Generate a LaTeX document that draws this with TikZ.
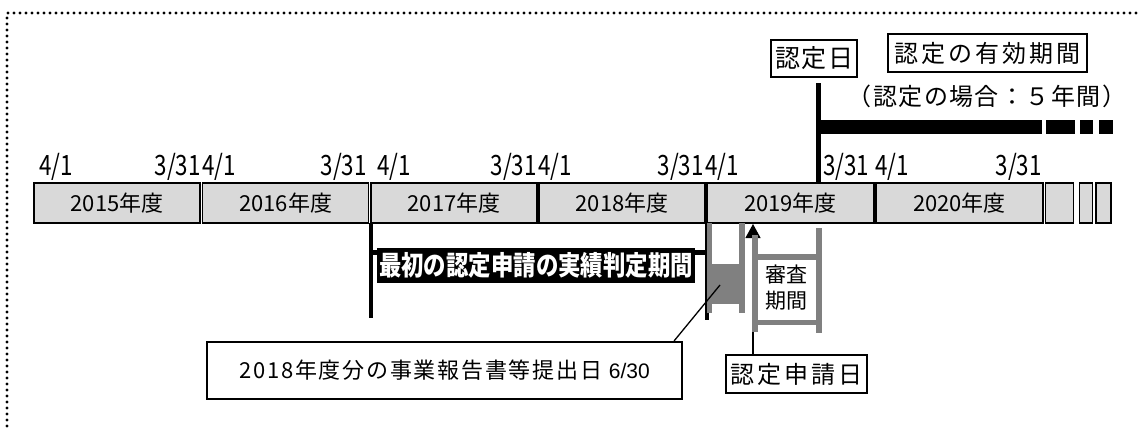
\documentclass[tikz,border=0pt]{standalone}
\usepackage{fontspec}
\usepackage{graphicx}
\setmainfont{Noto Sans CJK JP}
\newfontfamily\datefont[FakeStretch=0.8]{Noto Sans CJK JP}
\newfontfamily\latinfont{Liberation Sans}
\newcommand\myfs[1]{\fontsize{#1}{#1}\selectfont}
\newcommand\lsp[1]{\addfontfeatures{LetterSpace=#1}}
\usetikzlibrary{arrows.meta,calc}
\definecolor{barfill}{HTML}{D9D9D9}
\definecolor{graybar}{HTML}{808080}
\begin{document}
\begin{tikzpicture}[x=1pt,y=-1pt,
  yearbox/.style={draw=black, line width=1.5pt, fill=barfill, minimum height=40pt, inner sep=0pt, font=\myfs{22}},
  datelbl/.style={inner sep=0pt, font=\datefont\myfs{28}},
  framebox/.style={draw=black, line width=2.2pt, fill=white, inner sep=0pt},
  thickblack/.style={line width=#1, black},
  graystroke/.style={graybar, line width=#1}
]
\useasboundingbox (0,0) rectangle (1138,428);
% dotted frame
\draw[line width=3.4pt, line cap=round, dash pattern=on 0pt off 6pt] (7,432) -- (7,13) -- (1142,13);

% year bar
\node[yearbox, minimum width=166] (y15) at (117,203) {2015年度};
\node[yearbox, minimum width=166] (y16) at (285.7,203) {2016年度};
\node[yearbox, minimum width=165.6] (y17) at (454,203) {2017年度};
\node[yearbox, minimum width=165.6] (y18) at (622,203) {2018年度};
\node[yearbox, minimum width=166.6] (y19) at (790.5,203) {2019年度};
\node[yearbox, minimum width=166.6] (y20) at (959.5,203) {2020年度};
\node[yearbox, minimum width=28] (ya) at (1059.5,203) {};
\node[yearbox, minimum width=13] (yb) at (1086,203) {};
\node[yearbox, minimum width=15] (yc) at (1103.5,203) {};

% dates
\node[datelbl, anchor=base west] (d1) at (39,175) {4/1};
\node[datelbl, anchor=base east] (d2) at (201,175) {3/31};
\node[datelbl, anchor=base west] (d3) at (202,175) {4/1};
\node[datelbl, anchor=base east] (d4) at (367,175) {3/31};
\node[datelbl, anchor=base west] (d5) at (377,175) {4/1};
\node[datelbl, anchor=base east] (d6) at (537,175) {3/31};
\node[datelbl, anchor=base west] (d7) at (538,175) {4/1};
\node[datelbl, anchor=base east] (d8) at (704,175) {3/31};
\node[datelbl, anchor=base west] (d9) at (705,175) {4/1};
\node[datelbl, anchor=base west] (d10) at (823,175) {3/31};
\node[datelbl, anchor=base west] (d11) at (875,175) {4/1};
\node[datelbl, anchor=base east] (d12) at (1042,175) {3/31};

% top labels
\node[framebox, minimum width=86, minimum height=37, font=\myfs{25}\lsp{6}] (nd) at (814,58.5) {認定日};
\node[framebox, minimum width=199, minimum height=38, font=\myfs{24}\lsp{12}] (valid) at (987.5,53) {認定の有効期間};
\node[inner sep=0pt, font=\myfs{24}\lsp{6}] (five) at (987,96) {（認定の場合：５年間）};

% certification day line and validity bar
\coordinate (ndb) at (818.5,183);
\draw[thickblack=5pt] ($(nd.south -| ndb)+(0,5)$) -- (ndb);
\coordinate (vs) at (816,126.5);
\coordinate (ve) at (1042,126.5);
\draw[thickblack=14pt] (vs) -- (ve);
\draw[thickblack=14pt] (1046,126.5) -- (1075,126.5);
\draw[thickblack=14pt] (1080,126.5) -- (1093,126.5);
\draw[thickblack=14pt] (1099,126.5) -- (1113,126.5);

% performance period
\draw[thickblack=4pt] (371,223) -- (371,318);
\draw[thickblack=4pt] (706.5,223) -- (706.5,320);
\draw[thickblack=5pt] (371,252) -- (706.5,252);
\node[fill=black, text=white, minimum width=318, minimum height=35, inner sep=0pt, font=\myfs{27}\bfseries] (perf) at (536,265.5) {\scalebox{0.83}[1]{最初の認定申請の実績判定期間}};

% gray H (report submission)
\fill[graybar] (707,223) rectangle (712,313);
\fill[graybar] (739,223) rectangle (745,313);
\fill[graybar] (712,264) rectangle (739,304);

% application day
\node[framebox, minimum width=141, minimum height=38, font=\myfs{24}\lsp{12}] (app) at (796.5,374) {認定申請日};
\coordinate (tip) at (753,224);
\draw[line width=1.2pt, -{Triangle[width=15pt,length=14pt]}] (app.north -| tip) -- (tip);

% review period bracket
\draw[graystroke=6pt] (755,235) -- (755,332);
\draw[graystroke=6pt] (819,228) -- (819,333);
\draw[graystroke=6pt] (758,257) -- (816,257);
\draw[graystroke=5pt] (758,322.5) -- (816,322.5);
\node[align=center, font=\myfs{21}, inner sep=0pt] (rev) at (786,288) {審査\\[5pt]期間};

% report box
\node[framebox, minimum width=475, minimum height=57, font=\myfs{22}\lsp{8}] (rep) at (444.5,370.5) {2018年度分の事業報告書等提出日 {\latinfont\myfs{21}6/30}};
\coordinate (subm) at (720,285);
\draw[line width=1.3pt] ($(rep.north east)+(-9,0)$) -- (subm);
\end{tikzpicture}
\end{document}
